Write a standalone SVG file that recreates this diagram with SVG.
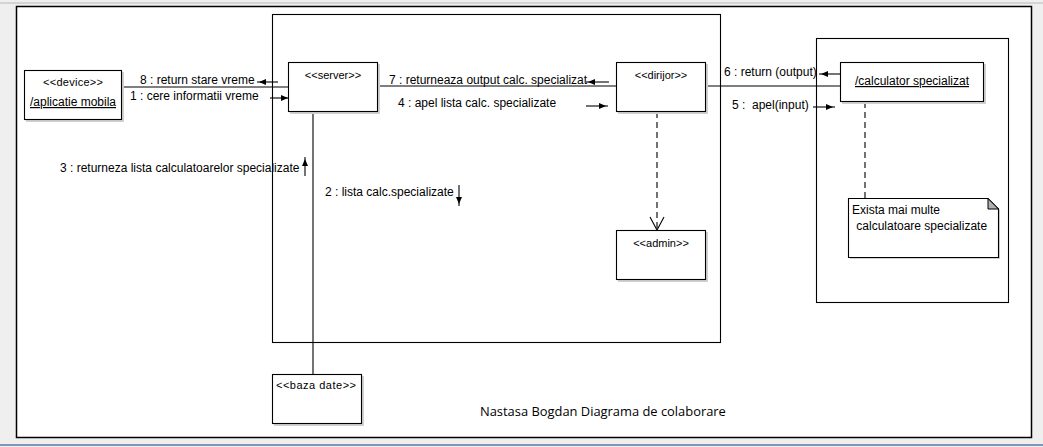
<svg xmlns="http://www.w3.org/2000/svg" width="1043" height="447" viewBox="0 0 1043 447">
<defs>
<style>
.bg{fill:#efefef}
.frame{fill:#fff;stroke:#000;stroke-width:1.5}
.box{fill:#fff;stroke:#000;stroke-width:1.1}
.shadow{fill:#d0d0d0}
.region{fill:none;stroke:#000;stroke-width:1.1}
.st{font-family:"Liberation Sans",Arial,sans-serif;font-size:11px;fill:#000}
.nm{font-family:"Liberation Sans",Arial,sans-serif;font-size:12px;fill:#000;text-decoration:underline}
.lbl{font-family:"Liberation Sans",Arial,sans-serif;font-size:12px;fill:#000}
.title{font-family:"Open Sans","Noto Sans",sans-serif;font-size:12.9px;fill:#000}
.ln{stroke:#000;stroke-width:1.1;fill:none}
.dash{stroke:#000;stroke-width:1.1;fill:none;stroke-dasharray:6,4}
.msg{stroke:#000;stroke-width:1.1;fill:none;marker-end:url(#ah)}
</style>
<marker id="ah" markerUnits="userSpaceOnUse" markerWidth="10" markerHeight="6" refX="9" refY="3" orient="auto">
<path d="M0,0 L7,3 L0,6 z" fill="#000"/>
</marker>
</defs>
<rect class="bg" x="0" y="0" width="1043" height="447"/>
<line x1="0" y1="3" x2="1043" y2="3" stroke="#b8b8b8" stroke-width="1"/>
<line x1="0" y1="445" x2="1043" y2="445" stroke="#7f96b4" stroke-width="2"/>
<rect class="frame" x="16.5" y="6.5" width="1015" height="431"/>

<g id="regions">
<rect class="region" x="272.5" y="14.5" width="448" height="328"/>
<rect class="region" x="816.5" y="38.5" width="192" height="264"/>
</g>

<g id="connectors">
<line class="ln" x1="122" y1="87" x2="288" y2="87"/>
<line class="ln" x1="378" y1="86" x2="616" y2="86"/>
<line class="ln" x1="706" y1="86" x2="840" y2="86"/>
<line class="ln" x1="313" y1="112" x2="313" y2="374"/>
<line class="dash" x1="657" y1="112" x2="657" y2="229"/>
<path class="ln" d="M650 217 L657 230 L664 217"/>
<line class="dash" x1="865" y1="102" x2="865" y2="198"/>
<path class="msg" d="M278 82 H257"/>
<path class="msg" d="M270 98 H290"/>
<path class="msg" d="M305 176 V157"/>
<path class="msg" d="M459 185 V206"/>
<path class="msg" d="M609 82 H586"/>
<path class="msg" d="M586 106 H608"/>
<path class="msg" d="M840 74 H819"/>
<path class="msg" d="M813 107 H835"/>
</g>

<g id="labels">
<text class="lbl" x="140" y="84">8 : return stare vreme</text>
<text class="lbl" x="130" y="100">1 : cere informatii vreme</text>
<text class="lbl" x="60" y="172">3 : returneza lista calculatoarelor specializate</text>
<text class="lbl" x="325" y="196">2 : lista calc.specializate</text>
<text class="lbl" x="389" y="84">7 : returneaza output calc. specializat</text>
<text class="lbl" x="398" y="107">4 : apel lista calc. specializate</text>
<text class="lbl" x="724" y="76">6 : return (output)</text>
<text class="lbl" x="732" y="109" xml:space="preserve">5 :  apel(input)</text>
</g>

<g id="device">
<rect class="shadow" x="26" y="72" width="98" height="50"/>
<rect class="box" x="24.5" y="70.5" width="97" height="49"/>
<text class="st" x="73" y="86" text-anchor="middle" textLength="60">&lt;&lt;device&gt;&gt;</text>
<text class="nm" x="73" y="106" text-anchor="middle">/aplicatie mobila</text>
</g>

<g id="server">
<rect class="shadow" x="290" y="64" width="90" height="50"/>
<rect class="box" x="288.5" y="62.5" width="89" height="49"/>
<text class="st" x="333" y="79" text-anchor="middle">&lt;&lt;server&gt;&gt;</text>
</g>

<g id="dirijor">
<rect class="shadow" x="618" y="64" width="90" height="50"/>
<rect class="box" x="616.5" y="62.5" width="89" height="49"/>
<text class="st" x="661" y="79" text-anchor="middle">&lt;&lt;dirijor&gt;&gt;</text>
</g>

<g id="admin">
<rect class="shadow" x="618" y="232" width="90" height="50"/>
<rect class="box" x="616.5" y="230.5" width="89" height="49"/>
<text class="st" x="661" y="247" text-anchor="middle">&lt;&lt;admin&gt;&gt;</text>
</g>

<g id="calculator">
<rect class="shadow" x="842" y="64" width="144" height="40"/>
<rect class="box" x="840.5" y="62.5" width="143" height="39"/>
<text class="nm" x="912" y="85" text-anchor="middle">/calculator specializat</text>
</g>

<g id="note">
<path class="shadow" d="M850 200 H990 L1000 210 V259 H850 z"/>
<path class="box" d="M848.5 198.5 H988 L998.5 209 V257.5 H848.5 z"/>
<path d="M988 198.5 V209 H998.5 z" fill="#b0b0b0" stroke="#000" stroke-width="1"/>
<text class="lbl" x="852" y="214">Exista mai multe</text>
<text class="lbl" x="853" y="230" xml:space="preserve"> calculatoare specializate</text>
</g>

<g id="baza_date">
<rect class="shadow" x="274" y="376" width="90" height="50"/>
<rect class="box" x="272.5" y="374.5" width="89" height="49"/>
<text class="st" x="276" y="389" textLength="80">&lt;&lt;baza date&gt;&gt;</text>
</g>

<text class="title" x="480" y="416">Nastasa Bogdan Diagrama de colaborare</text>
</svg>
